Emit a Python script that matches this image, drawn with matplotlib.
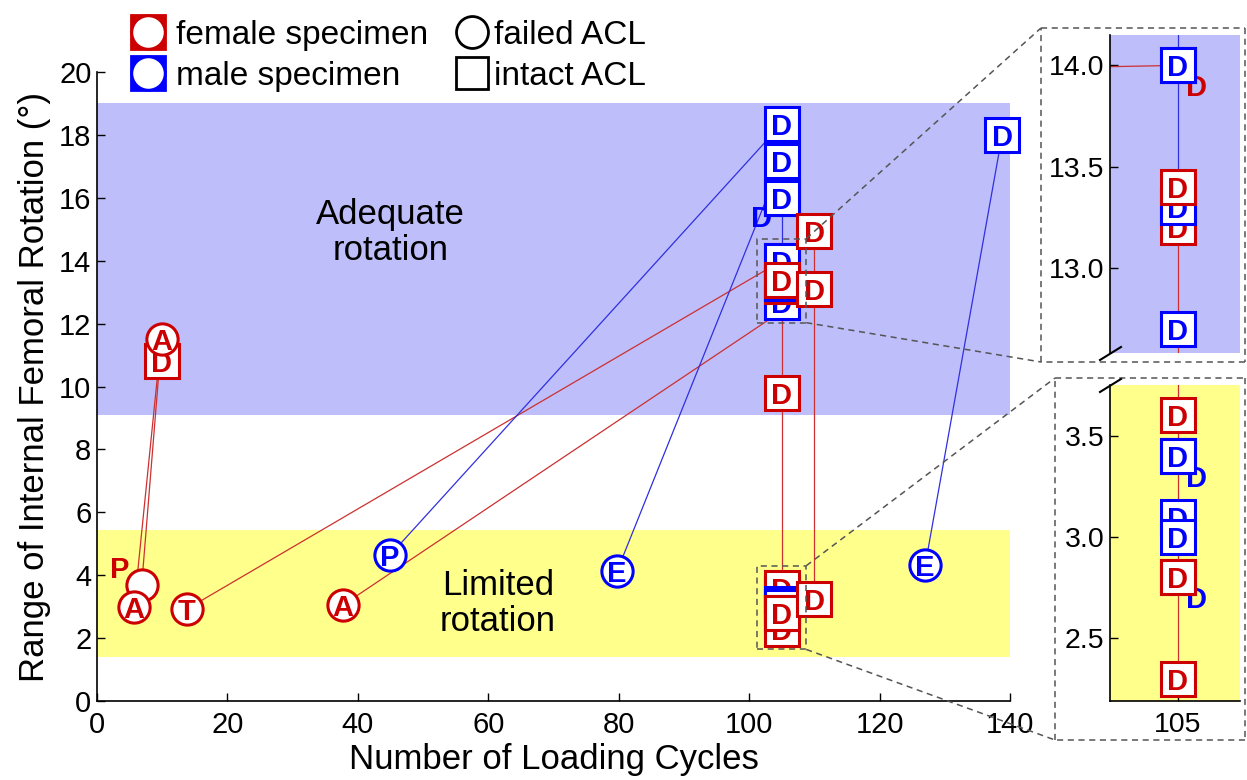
"""Range of internal femoral rotation vs. number of loading cycles."""

import matplotlib
matplotlib.use('Agg')
import matplotlib.pyplot as plt
from matplotlib.lines import Line2D
from matplotlib.patches import Rectangle

plt.rcParams['font.family'] = ['Liberation Sans', 'DejaVu Sans']

RED = '#CC0000'
BLUE = '#0000FF'
COLORS = {'f': RED, 'm': BLUE}
LINE_COLORS = {'f': '#CC3030', 'm': '#3030E0'}
BAND_BLUE = '#BEBEFA'
BAND_YELLOW = '#FFFF8C'

# ---- data -------------------------------------------------------------
# intact ACL specimens (squares), in drawing order
intact_x = [9.9, 105, 105, 105, 105, 105, 105, 105, 105, 105, 105,
            105, 105, 105, 105, 105, 105, 105, 105, 105, 110, 110, 110, 138.8]
intact_y = [10.8, 18.35, 17.17, 16.0, 16.0, 14.0, 14.0, 12.7, 13.2, 13.3,
            13.4, 9.8, 3.4, 3.4, 2.3, 3.6, 3.1, 3.0, 2.8, 2.8,
            14.95, 13.1, 3.24, 18.0]
intact_sex = ['f', 'm', 'm', 'm', 'm', 'f', 'm', 'm', 'f', 'm',
              'f', 'f', 'm', 'm', 'f', 'f', 'm', 'm', 'm', 'f',
              'f', 'f', 'f', 'm']
intact_lab = ['D'] * len(intact_x)
# hidden specimens get their letter shifted (pixels)
intact_off = [(0, 0)] * len(intact_x)
intact_off[3] = (-20, -18)
intact_off[5] = (19, -20)
intact_off[12] = (19, -20)
intact_off[18] = (19, -20)

# failed ACL specimens (circles), in drawing order
failed_x = [6.85, 5.7, 13.75, 37.7, 44.9, 79.75, 127.0, 9.9]
failed_y = [3.68, 3.0, 2.92, 3.05, 4.63, 4.13, 4.32, 11.5]
failed_sex = ['f', 'f', 'f', 'f', 'm', 'm', 'm', 'f']
failed_lab = ['P', 'A', 'T', 'A', 'P', 'E', 'E', 'A']
failed_off = [(-22, 18), (0, 0), (0, 0), (0, 0), (0, 0), (0, 0), (0, 0), (0, 0)]

# lines linking measurements of one specimen
seg_x0 = [5.7, 6.85, 13.75, 37.7, 105, 110, 44.9, 79.75, 127.0, 105]
seg_y0 = [3.0, 3.68, 2.92, 3.05, 13.2, 14.95, 4.63, 4.13, 4.32, 16.0]
seg_x1 = [9.5, 9.9, 105, 105, 105, 110, 105, 105, 138.8, 105]
seg_y1 = [10.8, 11.5, 14.0, 12.4, 2.3, 3.24, 18.35, 17.17, 18.0, 13.3]
seg_sex = ['f', 'f', 'f', 'f', 'f', 'f', 'm', 'm', 'm', 'm']

adequate_band = (9.1, 19.0)
limited_band = (1.4, 5.45)

zoom_x = 105
zoom_top = (12.58, 14.15)
zoom_bot = (2.19, 3.75)

PX = 72 / 100  # points per pixel at dpi 100


def in_zoom(x, y):
    return x == zoom_x and any(lo <= y <= hi for lo, hi in [zoom_top, zoom_bot])


def draw_data(ax, inset):
    clip = inset
    for x0, y0, x1, y1, s in zip(seg_x0, seg_y0, seg_x1, seg_y1, seg_sex):
        ax.plot([x0, x1], [y0, y1], color=LINE_COLORS[s], lw=0.9,
                zorder=2, clip_on=clip)
    groups = [(intact_x, intact_y, intact_sex, intact_lab, intact_off, 's', 24, 3),
              (failed_x, failed_y, failed_sex, failed_lab, failed_off, 'o', 22.5, 5)]
    for xs, ys, sx, labs, offs, mk, ms, z0 in groups:
        for i, (x, y, s, lab, off) in enumerate(zip(xs, ys, sx, labs, offs)):
            z = z0 + i * 0.02
            c = COLORS[s]
            ax.plot([x], [y], ls='', marker=mk, ms=ms, mfc='white', mec=c,
                    mew=2.2, zorder=z, clip_on=clip)
            # shifted letters of the crowded column only show in the zooms
            if off != (0, 0) and not inset and in_zoom(x, y):
                continue
            t = ax.annotate(lab, (x, y), xytext=(off[0] * PX, off[1] * PX),
                            textcoords='offset points', ha='center',
                            va='center_baseline', color=c, fontsize=21,
                            fontweight='bold', zorder=z + 0.01)
            t.set_clip_on(clip)


fig = plt.figure(figsize=(12.47, 7.8), dpi=100)

# ---- main axes --------------------------------------------------------
ax = fig.add_axes([97 / 1247, 1 - 701 / 780, 913 / 1247, 629 / 780])
ax.set_xlim(0, 140)
ax.set_ylim(0, 20)
ax.axhspan(*adequate_band, color=BAND_BLUE, lw=0, zorder=0)
ax.axhspan(*limited_band, color=BAND_YELLOW, lw=0, zorder=0)
draw_data(ax, inset=False)

ax.text(45.0, 14.9, 'Adequate\nrotation', ha='center', va='center',
        fontsize=25, linespacing=1.12)
ax.text(61.5, 3.1, 'Limited\nrotation', ha='center', va='center',
        fontsize=25, linespacing=1.12)

ax.set_xticks(range(0, 141, 20))
ax.set_yticks(range(0, 21, 2))
ax.tick_params(direction='in', length=6, width=1, labelsize=21, pad=4)
ax.tick_params(axis='x', pad=7)
for side in ['top', 'right']:
    ax.spines[side].set_visible(False)
for side in ['left', 'bottom']:
    ax.spines[side].set_linewidth(1.2)
ax.set_xlabel('Number of Loading Cycles', fontsize=25, labelpad=3)
ax.set_ylabel('Range of Internal Femoral Rotation (°)', fontsize=25, labelpad=6)

# dashed boxes around the zoomed regions
for lo, hi in [zoom_top, zoom_bot]:
    ax.add_patch(Rectangle((zoom_x - 3.75, lo - 0.55), 7.5, hi - lo + 1.1,
                           fill=False, ls=(0, (4, 3)), lw=1.1, ec='#555555',
                           zorder=8))

# ---- inset axes -------------------------------------------------------
insets = []
for rect, ylim, band, ticks in [
        ([1110 / 1247, 1 - 353 / 780, 130 / 1247, 318 / 780], zoom_top, BAND_BLUE, [13.0, 13.5, 14.0]),
        ([1110 / 1247, 1 - 701 / 780, 130 / 1247, 316 / 780], zoom_bot, BAND_YELLOW, [2.5, 3.0, 3.5])]:
    ia = fig.add_axes(rect)
    ia.set_facecolor(band)
    ia.set_xlim(104.948, 105.048)
    ia.set_ylim(*ylim)
    draw_data(ia, inset=True)
    ia.set_yticks(ticks)
    ia.set_yticklabels([f'{t:.1f}' for t in ticks])
    ia.tick_params(direction='in', length=6, width=1, labelsize=20.5, pad=4)
    for side in ['top', 'right']:
        ia.spines[side].set_visible(False)
    ia.spines['left'].set_linewidth(1.2)
    ia.spines['bottom'].set_linewidth(1.2)
    insets.append(ia)

insets[0].spines['bottom'].set_visible(False)
insets[0].set_xticks([])
insets[1].set_xticks([zoom_x])
insets[1].tick_params(axis='x', pad=8)

# ---- frames, connectors, break marks (figure pixels) ------------------
W, H = 1247, 780


def fpx(x, y):
    return x / W, 1 - y / H


def fig_line(p0, p1, **kw):
    (x0, y0), (x1, y1) = fpx(*p0), fpx(*p1)
    fig.add_artist(Line2D([x0, x1], [y0, y1], transform=fig.transFigure, **kw))


dash = dict(ls=(0, (4, 3)), lw=1.1, color='#555555')
for (l, t, r, b) in [(1041, 28, 1245, 362), (1055, 378, 1245, 740)]:
    fig_line((l, t), (r, t), **dash)
    fig_line((r, t), (r, b), **dash)
    fig_line((r, b), (l, b), **dash)
    fig_line((l, b), (l, t), **dash)

inv = fig.transFigure.inverted()
corners = [((zoom_x + 3.75, zoom_top[1] + 0.55), (1041, 28)),
           ((zoom_x + 3.75, zoom_top[0] - 0.55), (1041, 362)),
           ((zoom_x + 3.75, zoom_bot[1] + 0.55), (1055, 378)),
           ((zoom_x + 3.75, zoom_bot[0] - 0.55), (1055, 740))]
for data_pt, pix in corners:
    a = inv.transform(ax.transData.transform(data_pt))
    b = fpx(*pix)
    fig.add_artist(Line2D([a[0], b[0]], [a[1], b[1]],
                          transform=fig.transFigure, **dash))

fig_line((1100, 360), (1121, 347), color='black', lw=1.5)
fig_line((1100, 392), (1121, 379), color='black', lw=1.5)

# ---- legend -----------------------------------------------------------
def leg_marker(px, py, **kw):
    x, y = fpx(px, py)
    fig.add_artist(Line2D([x], [y], transform=fig.transFigure, ls='', **kw))


leg_marker(148, 32, marker='s', ms=25, mfc=RED, mec=RED, mew=2)
leg_marker(148, 32, marker='o', ms=24, mfc='white', mec=RED, mew=2)
leg_marker(148, 73, marker='s', ms=25, mfc=BLUE, mec=BLUE, mew=2)
leg_marker(148, 73, marker='o', ms=24, mfc='white', mec=BLUE, mew=2)
leg_marker(472, 32, marker='o', ms=23, mfc='white', mec='black', mew=2)
leg_marker(472, 73, marker='s', ms=23, mfc='white', mec='black', mew=2)
for px, py, txt in [(176, 32, 'female specimen'), (176, 73, 'male specimen'),
                    (494, 32, 'failed ACL'), (494, 73, 'intact ACL')]:
    x, y = fpx(px, py)
    fig.text(x, y, txt, ha='left', va='center_baseline', fontsize=24)

fig.savefig('out.png', dpi=100)
